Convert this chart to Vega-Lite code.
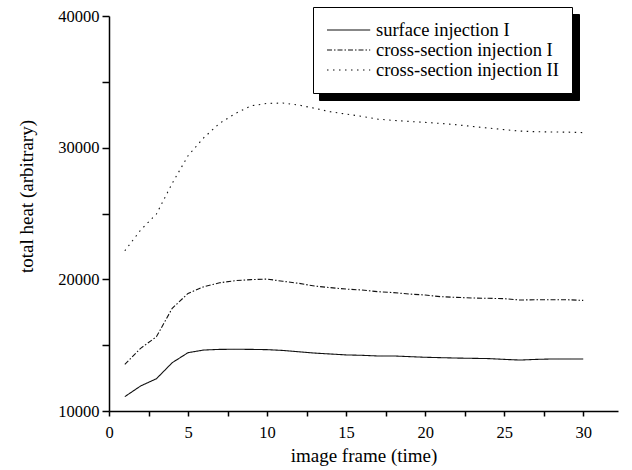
{
  "$schema": "https://vega.github.io/schema/vega-lite/v6.json",
  "autosize": "none",
  "width": 509,
  "height": 395,
  "padding": {"left": 109, "top": 16, "right": 14, "bottom": 59},
  "background": "white",
  "config": {
    "view": {"stroke": null},
    "font": "Liberation Serif",
    "axis": {
      "grid": false,
      "domainColor": "black",
      "domainWidth": 1.5,
      "tickColor": "black",
      "tickWidth": 1.5,
      "labelFont": "Liberation Serif",
      "labelFontSize": 16.5,
      "labelColor": "black",
      "titleFont": "Liberation Serif",
      "titleFontSize": 19,
      "titleFontWeight": "normal",
      "titleColor": "black"
    }
  },
  "data": {
    "values": [
      {"frame": 1, "heat": 11090, "series": "surface injection I"},
      {"frame": 2, "heat": 11900, "series": "surface injection I"},
      {"frame": 3, "heat": 12450, "series": "surface injection I"},
      {"frame": 4, "heat": 13670, "series": "surface injection I"},
      {"frame": 5, "heat": 14430, "series": "surface injection I"},
      {"frame": 6, "heat": 14630, "series": "surface injection I"},
      {"frame": 7, "heat": 14680, "series": "surface injection I"},
      {"frame": 8, "heat": 14690, "series": "surface injection I"},
      {"frame": 9, "heat": 14680, "series": "surface injection I"},
      {"frame": 10, "heat": 14660, "series": "surface injection I"},
      {"frame": 11, "heat": 14600, "series": "surface injection I"},
      {"frame": 12, "heat": 14500, "series": "surface injection I"},
      {"frame": 13, "heat": 14400, "series": "surface injection I"},
      {"frame": 14, "heat": 14330, "series": "surface injection I"},
      {"frame": 15, "heat": 14260, "series": "surface injection I"},
      {"frame": 16, "heat": 14230, "series": "surface injection I"},
      {"frame": 17, "heat": 14180, "series": "surface injection I"},
      {"frame": 18, "heat": 14180, "series": "surface injection I"},
      {"frame": 19, "heat": 14130, "series": "surface injection I"},
      {"frame": 20, "heat": 14080, "series": "surface injection I"},
      {"frame": 21, "heat": 14050, "series": "surface injection I"},
      {"frame": 22, "heat": 14020, "series": "surface injection I"},
      {"frame": 23, "heat": 14000, "series": "surface injection I"},
      {"frame": 24, "heat": 13980, "series": "surface injection I"},
      {"frame": 25, "heat": 13920, "series": "surface injection I"},
      {"frame": 26, "heat": 13870, "series": "surface injection I"},
      {"frame": 27, "heat": 13920, "series": "surface injection I"},
      {"frame": 28, "heat": 13950, "series": "surface injection I"},
      {"frame": 29, "heat": 13950, "series": "surface injection I"},
      {"frame": 30, "heat": 13950, "series": "surface injection I"},
      {"frame": 1, "heat": 13540, "series": "cross-section injection I"},
      {"frame": 2, "heat": 14760, "series": "cross-section injection I"},
      {"frame": 3, "heat": 15640, "series": "cross-section injection I"},
      {"frame": 4, "heat": 17800, "series": "cross-section injection I"},
      {"frame": 5, "heat": 18930, "series": "cross-section injection I"},
      {"frame": 6, "heat": 19440, "series": "cross-section injection I"},
      {"frame": 7, "heat": 19740, "series": "cross-section injection I"},
      {"frame": 8, "heat": 19900, "series": "cross-section injection I"},
      {"frame": 9, "heat": 19980, "series": "cross-section injection I"},
      {"frame": 10, "heat": 20020, "series": "cross-section injection I"},
      {"frame": 11, "heat": 19850, "series": "cross-section injection I"},
      {"frame": 12, "heat": 19700, "series": "cross-section injection I"},
      {"frame": 13, "heat": 19490, "series": "cross-section injection I"},
      {"frame": 14, "heat": 19370, "series": "cross-section injection I"},
      {"frame": 15, "heat": 19260, "series": "cross-section injection I"},
      {"frame": 16, "heat": 19190, "series": "cross-section injection I"},
      {"frame": 17, "heat": 19060, "series": "cross-section injection I"},
      {"frame": 18, "heat": 18990, "series": "cross-section injection I"},
      {"frame": 19, "heat": 18880, "series": "cross-section injection I"},
      {"frame": 20, "heat": 18810, "series": "cross-section injection I"},
      {"frame": 21, "heat": 18680, "series": "cross-section injection I"},
      {"frame": 22, "heat": 18630, "series": "cross-section injection I"},
      {"frame": 23, "heat": 18580, "series": "cross-section injection I"},
      {"frame": 24, "heat": 18560, "series": "cross-section injection I"},
      {"frame": 25, "heat": 18530, "series": "cross-section injection I"},
      {"frame": 26, "heat": 18430, "series": "cross-section injection I"},
      {"frame": 27, "heat": 18450, "series": "cross-section injection I"},
      {"frame": 28, "heat": 18450, "series": "cross-section injection I"},
      {"frame": 29, "heat": 18450, "series": "cross-section injection I"},
      {"frame": 30, "heat": 18400, "series": "cross-section injection I"},
      {"frame": 1, "heat": 22170, "series": "cross-section injection II"},
      {"frame": 2, "heat": 23740, "series": "cross-section injection II"},
      {"frame": 3, "heat": 24960, "series": "cross-section injection II"},
      {"frame": 4, "heat": 27290, "series": "cross-section injection II"},
      {"frame": 5, "heat": 29390, "series": "cross-section injection II"},
      {"frame": 6, "heat": 30760, "series": "cross-section injection II"},
      {"frame": 7, "heat": 31850, "series": "cross-section injection II"},
      {"frame": 8, "heat": 32600, "series": "cross-section injection II"},
      {"frame": 9, "heat": 33180, "series": "cross-section injection II"},
      {"frame": 10, "heat": 33360, "series": "cross-section injection II"},
      {"frame": 11, "heat": 33390, "series": "cross-section injection II"},
      {"frame": 12, "heat": 33240, "series": "cross-section injection II"},
      {"frame": 13, "heat": 32990, "series": "cross-section injection II"},
      {"frame": 14, "heat": 32730, "series": "cross-section injection II"},
      {"frame": 15, "heat": 32550, "series": "cross-section injection II"},
      {"frame": 16, "heat": 32380, "series": "cross-section injection II"},
      {"frame": 17, "heat": 32170, "series": "cross-section injection II"},
      {"frame": 18, "heat": 32070, "series": "cross-section injection II"},
      {"frame": 19, "heat": 31990, "series": "cross-section injection II"},
      {"frame": 20, "heat": 31920, "series": "cross-section injection II"},
      {"frame": 21, "heat": 31840, "series": "cross-section injection II"},
      {"frame": 22, "heat": 31740, "series": "cross-section injection II"},
      {"frame": 23, "heat": 31610, "series": "cross-section injection II"},
      {"frame": 24, "heat": 31490, "series": "cross-section injection II"},
      {"frame": 25, "heat": 31370, "series": "cross-section injection II"},
      {"frame": 26, "heat": 31260, "series": "cross-section injection II"},
      {"frame": 27, "heat": 31210, "series": "cross-section injection II"},
      {"frame": 28, "heat": 31190, "series": "cross-section injection II"},
      {"frame": 29, "heat": 31180, "series": "cross-section injection II"},
      {"frame": 30, "heat": 31140, "series": "cross-section injection II"}
    ]
  },
  "mark": {"type": "line", "color": "#111", "strokeWidth": 1.1, "clip": false},
  "encoding": {
    "x": {
      "field": "frame",
      "type": "quantitative",
      "scale": {"domain": [0, 32.2], "nice": false},
      "axis": {
        "title": "image frame (time)",
        "values": [0, 2.5, 5, 7.5, 10, 12.5, 15, 17.5, 20, 22.5, 25, 27.5, 30],
        "labelExpr": "datum.value % 5 === 0 ? datum.label : ''",
        "tickSize": 5,
        "labelPadding": 8,
        "titlePadding": 6,
        "labelFlush": false
      }
    },
    "y": {
      "field": "heat",
      "type": "quantitative",
      "scale": {"domain": [10000, 40000], "nice": false},
      "axis": {
        "title": "total heat (arbitrary)",
        "values": [10000, 15000, 20000, 25000, 30000, 35000, 40000],
        "labelExpr": "datum.value % 10000 === 0 ? format(datum.value, 'd') : ''",
        "tickSize": 7,
        "labelPadding": 3,
        "titlePadding": 21,
        "titleY": 180,
        "labelFlush": false
      }
    },
    "opacity": {
      "field": "series",
      "type": "nominal",
      "scale": {
        "domain": ["cross-section injection II", "cross-section injection I", "surface injection I"],
        "range": [1, 1, 1]
      },
      "legend": {
        "title": null,
        "orient": "none",
        "legendX": 210,
        "legendY": -2,
        "zindex": 0,
        "symbolType": "M-1,0H3.8",
        "symbolSize": 324,
        "symbolStrokeColor": "black",
        "symbolFillColor": "transparent",
        "symbolStrokeWidth": 1.1,
        "labelExpr": "''",
        "labelFont": "Liberation Serif",
        "labelFontSize": 18.5,
        "labelColor": "black",
        "labelOffset": 214,
        "fillColor": "black",
        "strokeColor": "black",
        "padding": 13,
        "rowPadding": 0
      }
    },
    "strokeDash": {
      "field": "series",
      "type": "nominal",
      "scale": {
        "domain": ["surface injection I", "cross-section injection I", "cross-section injection II"],
        "range": [[1, 0], [5, 2, 1.5, 2], [1.5, 4.5]]
      },
      "legend": {
        "title": null,
        "orient": "none",
        "legendX": 204,
        "legendY": -9,
        "zindex": 1,
        "symbolType": "M-1,0H3.8",
        "symbolSize": 324,
        "symbolStrokeColor": "#111",
        "symbolFillColor": "transparent",
        "symbolStrokeWidth": 1.1,
        "labelFont": "Liberation Serif",
        "labelFontSize": 18.5,
        "labelColor": "black",
        "labelOffset": 30,
        "fillColor": "white",
        "strokeColor": "black",
        "padding": 13,
        "rowPadding": 0,
        "labelLimit": 400
      }
    }
  }
}
